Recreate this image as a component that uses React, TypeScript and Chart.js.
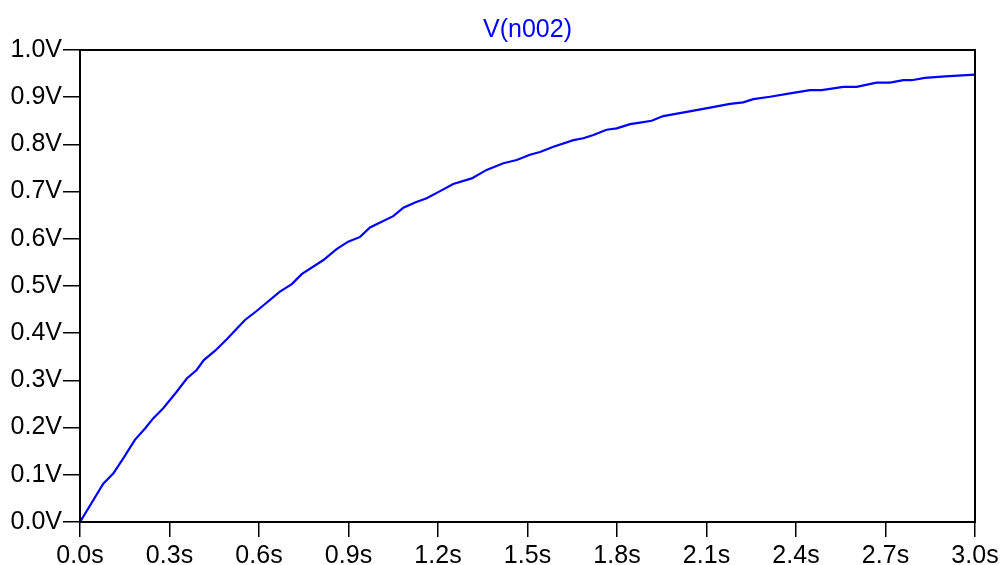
import React, { useEffect, useRef } from 'react';
import { Chart, registerables } from 'chart.js';

Chart.register(...registerables);

const seriesLabel = 'V(n002)';

const timeS = [
  0, 0.078, 0.112, 0.145, 0.184, 0.218, 0.246, 0.279, 0.324, 0.358,
  0.391, 0.415, 0.453, 0.492, 0.553, 0.592, 0.67, 0.71, 0.743, 0.816,
  0.86, 0.899, 0.939, 0.972, 1.05, 1.084, 1.123, 1.162, 1.207, 1.251,
  1.313, 1.363, 1.419, 1.464, 1.508, 1.542, 1.587, 1.654, 1.687, 1.721,
  1.765, 1.799, 1.844, 1.877, 1.916, 1.955, 2.034, 2.112, 2.179, 2.223,
  2.257, 2.313, 2.38, 2.447, 2.486, 2.559, 2.603, 2.67, 2.715, 2.76,
  2.788, 2.832, 2.9, 3.0,
];

const voltageV = [
  0, 0.081, 0.103, 0.135, 0.174, 0.198, 0.22, 0.241, 0.276, 0.304,
  0.322, 0.343, 0.363, 0.387, 0.428, 0.447, 0.488, 0.504, 0.525, 0.555,
  0.578, 0.594, 0.604, 0.624, 0.648, 0.666, 0.677, 0.686, 0.701, 0.716,
  0.728, 0.746, 0.76, 0.767, 0.778, 0.784, 0.795, 0.809, 0.813, 0.82,
  0.831, 0.834, 0.843, 0.846, 0.85, 0.86, 0.869, 0.878, 0.886, 0.889,
  0.896, 0.901, 0.908, 0.915, 0.915, 0.922, 0.922, 0.931, 0.931, 0.936,
  0.936, 0.941, 0.944, 0.948,
];

const xTickValues = [0, 0.3, 0.6, 0.9, 1.2, 1.5, 1.8, 2.1, 2.4, 2.7, 3.0];
const xTickLabels = ['0.0s', '0.3s', '0.6s', '0.9s', '1.2s', '1.5s', '1.8s', '2.1s', '2.4s', '2.7s', '3.0s'];
const yTickValues = [0, 0.1, 0.2, 0.3, 0.4, 0.5, 0.6, 0.7, 0.8, 0.9, 1.0];
const yTickLabels = ['0.0V', '0.1V', '0.2V', '0.3V', '0.4V', '0.5V', '0.6V', '0.7V', '0.8V', '0.9V', '1.0V'];

const FONT = 'Liberation Sans, Arial, sans-serif';

export default function App() {
  const ref = useRef<HTMLCanvasElement>(null);

  useEffect(() => {
    document.body.style.margin = '0';
    const framePlugin = {
      id: 'frame',
      afterDraw(chart: any) {
        const { ctx, chartArea: a } = chart;
        ctx.save();
        ctx.strokeStyle = '#000';
        ctx.lineWidth = 2;
        ctx.strokeRect(a.left, a.top, a.right - a.left, a.bottom - a.top);
        ctx.restore();
      },
    };

    const chart = new Chart(ref.current!, {
      type: 'line',
      data: {
        datasets: [
          {
            label: seriesLabel,
            data: timeS.map((t, i) => ({ x: t, y: voltageV[i] })),
            borderColor: '#0000ff',
            borderWidth: 2.2,
            pointRadius: 0,
            tension: 0,
            fill: false,
          },
        ],
      },
      options: {
        animation: false,
        responsive: true,
        maintainAspectRatio: false,
        layout: { padding: { left: 0, right: 30, top: 0, bottom: 0 } },
        plugins: {
          legend: { display: false },
          tooltip: { enabled: false },
          title: {
            display: true,
            text: seriesLabel,
            color: '#0000ff',
            fullSize: false,
            font: { family: FONT, size: 25, weight: 'normal' },
            padding: { top: 15.5, bottom: 4.5 },
          },
        },
        scales: {
          x: {
            type: 'linear',
            min: 0,
            max: 3,
            afterBuildTicks: (scale: any) => {
              scale.ticks = xTickValues.map((v) => ({ value: v }));
            },
            afterFit: (scale: any) => {
              scale.height = 43;
            },
            ticks: {
              autoSkip: false,
              maxRotation: 0,
              padding: 4,
              color: '#000',
              font: { family: FONT, size: 25 },
              callback: (_v: any, i: number) => xTickLabels[i],
            },
            grid: {
              drawOnChartArea: false,
              drawTicks: true,
              tickLength: 15,
              color: '#000',
              lineWidth: 1.5,
            },
            border: { display: true, color: '#000', width: 2 },
          },
          y: {
            type: 'linear',
            min: 0,
            max: 1,
            afterBuildTicks: (scale: any) => {
              scale.ticks = yTickValues.map((v) => ({ value: v }));
            },
            afterFit: (scale: any) => {
              scale.width = 80;
            },
            ticks: {
              autoSkip: false,
              padding: 1,
              color: '#000',
              font: { family: FONT, size: 25 },
              callback: (_v: any, i: number) => yTickLabels[i],
            },
            grid: {
              drawOnChartArea: false,
              drawTicks: true,
              tickLength: 17,
              color: '#000',
              lineWidth: 1.5,
            },
            border: { display: true, color: '#000', width: 2 },
          },
        },
      },
      plugins: [framePlugin],
    });
    return () => chart.destroy();
  }, []);

  return (
    <div style={{ position: 'fixed', left: 0, top: 0, width: 1005, height: 565, background: '#fff' }}>
      <canvas ref={ref} />
    </div>
  );
}
